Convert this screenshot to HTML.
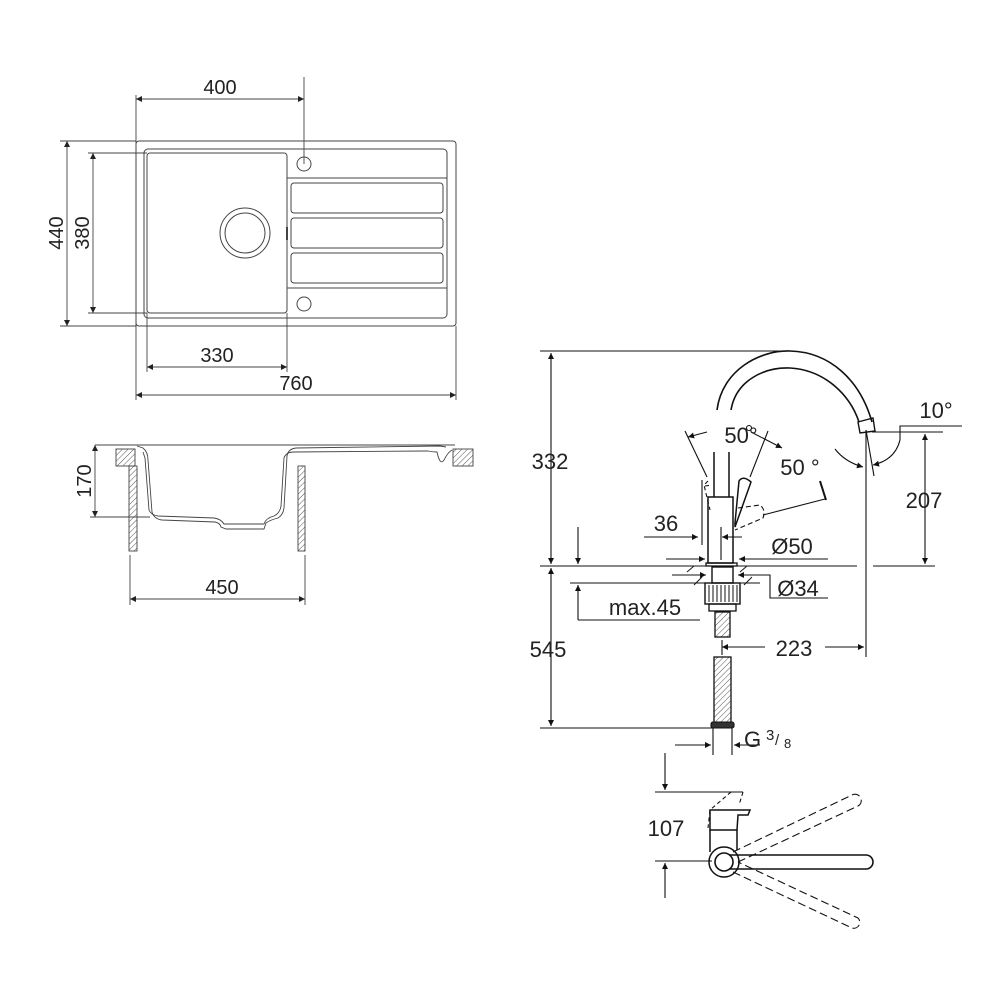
<!DOCTYPE html>
<html><head><meta charset="utf-8"><style>
html,body{margin:0;padding:0;background:#fff;}
svg{display:block;}
text{font-family:"Liberation Sans",sans-serif;fill:#222;}
</style></head><body>
<svg width="1000" height="1000" viewBox="0 0 1000 1000" xmlns="http://www.w3.org/2000/svg">
<defs>
<marker id="a" viewBox="0 0 10 10" refX="10" refY="5" markerWidth="10" markerHeight="6" orient="auto-start-reverse" markerUnits="userSpaceOnUse"><path d="M0,0L10,5L0,10z" fill="#222"/></marker>
<marker id="b" viewBox="0 0 10 10" refX="10" refY="5" markerWidth="14" markerHeight="6" orient="auto-start-reverse" markerUnits="userSpaceOnUse"><path d="M0,0L10,5L0,10z" fill="#111"/></marker>
<pattern id="h" patternUnits="userSpaceOnUse" width="4" height="4" patternTransform="rotate(45)"><line x1="0" y1="0" x2="0" y2="4" stroke="#555" stroke-width="1"/></pattern>
</defs>

<!-- ===== Sink plan ===== -->
<g fill="none" stroke="#444" stroke-width="1">
<rect x="136" y="141" width="320" height="185" rx="3"/>
<rect x="144" y="149" width="303" height="169" rx="4"/>
<rect x="147" y="153" width="140" height="160" rx="3"/>
<circle cx="245" cy="233" r="25"/>
<circle cx="245" cy="233" r="20"/>
<circle cx="304" cy="164" r="7"/>
<circle cx="304" cy="304" r="7"/>
<line x1="287" y1="178" x2="447" y2="178"/>
<line x1="287" y1="288" x2="447" y2="288"/>
<rect x="291" y="183" width="152" height="30" rx="3"/>
<rect x="291" y="218" width="152" height="30" rx="3"/>
<rect x="291" y="253" width="152" height="30" rx="3"/>
<line x1="287" y1="227" x2="287" y2="240" stroke-width="2"/>
</g>
<g stroke="#444" stroke-width="0.9" fill="none">
<line x1="136" y1="95" x2="136" y2="400"/>
<line x1="304" y1="77" x2="304" y2="164"/>
<line x1="136" y1="99" x2="304" y2="99" marker-start="url(#a)" marker-end="url(#a)"/>
<line x1="60" y1="141" x2="136" y2="141"/>
<line x1="60" y1="326" x2="136" y2="326"/>
<line x1="67" y1="141" x2="67" y2="326" marker-start="url(#a)" marker-end="url(#a)"/>
<line x1="88" y1="153" x2="147" y2="153"/>
<line x1="88" y1="313" x2="147" y2="313"/>
<line x1="93" y1="153" x2="93" y2="313" marker-start="url(#a)" marker-end="url(#a)"/>
<line x1="147" y1="313" x2="147" y2="372"/>
<line x1="287" y1="313" x2="287" y2="372"/>
<line x1="147" y1="367" x2="287" y2="367" marker-start="url(#a)" marker-end="url(#a)"/>
<line x1="456" y1="326" x2="456" y2="400"/>
<line x1="136" y1="395" x2="456" y2="395" marker-start="url(#a)" marker-end="url(#a)"/>
</g>
<g font-size="20" style="fill:#333">
<text x="220" y="94" text-anchor="middle">400</text>
<text x="217" y="362" text-anchor="middle">330</text>
<text x="296" y="390" text-anchor="middle">760</text>
<text transform="translate(63,233) rotate(-90)" text-anchor="middle">440</text>
<text transform="translate(89,233) rotate(-90)" text-anchor="middle">380</text>
</g>

<!-- ===== Sink section ===== -->
<g stroke="#444" stroke-width="0.9" fill="none">
<line x1="95" y1="445" x2="455" y2="445"/>
<rect x="116" y="449" width="19" height="17" fill="url(#h)"/>
<rect x="453" y="449" width="20" height="17" fill="url(#h)"/>
<rect x="129" y="466" width="8" height="85" fill="url(#h)"/>
<rect x="298" y="466" width="7" height="85" fill="url(#h)"/>
<path d="M137,446 L143,448 Q148,452 148,460 L152,512 Q154,519 162,520 L215,522 Q220,523 221,527 L226,529 L264,529 L266,523 Q270,520 278,518 Q283,515 284,508 L287,456 Q288,449 296,448 L440,446 L446,447"/>
<path d="M143,452 L145,458 L149,510 Q151,515 158,516 L214,518 Q221,519 224,524 L264,524 Q266,518 274,516 Q280,513 281,506 L284,458 Q286,452 294,452 L428,451 Q432,452 437,452 Q440,466 444,460 Q448,452 452,450"/>
<line x1="90" y1="517" x2="150" y2="517"/>
<line x1="95" y1="445" x2="95" y2="517" marker-start="url(#a)" marker-end="url(#a)"/>
<line x1="130" y1="555" x2="130" y2="605"/>
<line x1="305" y1="555" x2="305" y2="605"/>
<line x1="130" y1="599" x2="305" y2="599" marker-start="url(#a)" marker-end="url(#a)"/>
</g>
<g font-size="20" style="fill:#333">
<text x="222" y="594" text-anchor="middle">450</text>
<text transform="translate(91,481) rotate(-90)" text-anchor="middle">170</text>
</g>

<!-- ===== Faucet ===== -->
<g stroke="#111" stroke-width="1.1" fill="none">
<line x1="540" y1="351" x2="785" y2="351"/>
<line x1="551" y1="353" x2="551" y2="564" marker-start="url(#b)" marker-end="url(#b)"/>
<line x1="540" y1="566" x2="857" y2="566"/>
<line x1="873" y1="566" x2="935" y2="566"/>
<line x1="551" y1="568" x2="551" y2="726" marker-start="url(#b)" marker-end="url(#b)"/>
<line x1="540" y1="728" x2="720" y2="728"/>
<path d="M717,410 C722,370 760,350 790,351 C830,352 860,380 872,422" stroke-width="1.6"/>
<path d="M731,410 C736,380 765,367 790,368 C825,370 850,395 859,422" stroke-width="1.6"/>
<path d="M858,422 L873,418 L875,431 L860,433 Z" stroke-width="1.4"/>
<line x1="714" y1="452" x2="714" y2="497" stroke-width="1.5"/>
<line x1="729" y1="452" x2="729" y2="497" stroke-width="1.5"/>
<rect x="708" y="497" width="25" height="66" stroke-width="1.5"/>
<rect x="706" y="563" width="31" height="3" stroke-width="1.3"/>
<path d="M735,523 L739,481 Q743,475 751,482 L735,527 Z" stroke-width="1.5"/>
<path d="M708,481 L704,485 L710,510 M705,486 L712,485" stroke-dasharray="4,3"/>
<line x1="702" y1="480" x2="702" y2="545"/>
<path d="M738,508 L760,505 Q766,510 763,518 L735,530" stroke-dasharray="5,3"/>
<line x1="763" y1="515" x2="825" y2="499"/>
<line x1="820" y1="481" x2="826" y2="500" stroke-width="2"/>
<line x1="685" y1="431" x2="707" y2="477"/>
<line x1="768" y1="431" x2="750" y2="477"/>
<line x1="688" y1="437" x2="707" y2="432" marker-start="url(#b)"/>
<circle cx="749" cy="428" r="2.5"/>
<line x1="751" y1="432" x2="782" y2="448" marker-end="url(#b)"/>
<line x1="644" y1="537" x2="698" y2="537" marker-end="url(#b)"/>
<line x1="742" y1="537" x2="722" y2="537" marker-end="url(#b)"/>
<line x1="721" y1="527" x2="721" y2="560"/>
<line x1="666" y1="559" x2="705" y2="559" marker-end="url(#b)"/>
<line x1="780" y1="559" x2="739" y2="559" marker-end="url(#b)"/>
<line x1="780" y1="559" x2="828" y2="559"/>
<path d="M687,572 L694,566 M694,585 L702,577 M740,572 L747,566 M744,585 L752,577" stroke-width="0.9"/>
<line x1="672" y1="575" x2="706" y2="575" marker-end="url(#b)"/>
<line x1="762" y1="575" x2="738" y2="575" marker-end="url(#b)"/>
<polyline points="742,575 770,575 770,598 828,598"/>
<rect x="712" y="567" width="21" height="16" stroke-width="1.4"/>
<rect x="705" y="583" width="35" height="21" stroke-width="1.4"/>
<path d="M709,585v17M713,585v17M717,585v17M721,585v17M725,585v17M729,585v17M733,585v17M737,585v17" stroke-width="1"/>
<rect x="709" y="604" width="27" height="7" stroke-width="1.3"/>
<rect x="715" y="612" width="15" height="25" fill="url(#h)" stroke-width="1.3"/>
<rect x="714" y="657" width="17" height="66" fill="url(#h)" stroke-width="1.3"/>
<rect x="711" y="722" width="23" height="6" rx="2" fill="#333"/>
<line x1="722" y1="640" x2="722" y2="655"/>
<line x1="578" y1="527" x2="578" y2="564" marker-end="url(#b)"/>
<line x1="570" y1="583" x2="760" y2="583"/>
<line x1="578" y1="620" x2="578" y2="585" marker-end="url(#b)"/>
<line x1="578" y1="620" x2="700" y2="620"/>
<line x1="866" y1="430" x2="866" y2="657"/>
<line x1="722" y1="647" x2="765" y2="647" marker-start="url(#b)"/>
<line x1="825" y1="647" x2="864" y2="647" marker-end="url(#b)"/>
<line x1="895" y1="432" x2="943" y2="432"/>
<line x1="925" y1="434" x2="925" y2="564" marker-start="url(#b)" marker-end="url(#b)"/>
<polyline points="872,432 898,432"/>
<polyline points="900,440 900,426 962,426"/>
<line x1="866" y1="430" x2="874" y2="476"/>
<path d="M835,449 Q845,462 863,467" marker-end="url(#b)"/>
<path d="M900,440 Q895,460 873,465" marker-end="url(#b)"/>
<line x1="675" y1="745" x2="711" y2="745" marker-end="url(#b)"/>
<line x1="760" y1="745" x2="734" y2="745" marker-end="url(#b)"/>
<line x1="713" y1="728" x2="713" y2="755"/>
<line x1="732" y1="728" x2="732" y2="755"/>
</g>
<g font-size="22" fill="#111">
<text x="550" y="469" text-anchor="middle">332</text>
<text x="548" y="657" text-anchor="middle">545</text>
<text x="741" y="443" text-anchor="middle">50°</text>
<text x="800" y="475" text-anchor="middle">50 °</text>
<text x="666" y="531" text-anchor="middle">36</text>
<text x="792" y="554" text-anchor="middle">Ø50</text>
<text x="798" y="596" text-anchor="middle">Ø34</text>
<text x="645" y="615" text-anchor="middle">max.45</text>
<text x="794" y="656" text-anchor="middle">223</text>
<text x="924" y="508" text-anchor="middle">207</text>
<text x="936" y="418" text-anchor="middle">10°</text>
<text x="744" y="747">G</text>
<text x="766" y="740" font-size="15">3</text><text x="775" y="745" font-size="15">/</text><text x="784" y="748" font-size="13">8</text>
</g>

<!-- ===== Lever top view ===== -->
<g stroke="#111" stroke-width="1.1" fill="none">
<line x1="665" y1="753" x2="665" y2="790" marker-end="url(#b)"/>
<line x1="655" y1="792" x2="743" y2="792"/>
<line x1="655" y1="861" x2="712" y2="861"/>
<line x1="665" y1="898" x2="665" y2="863" marker-end="url(#b)"/>
<path d="M743,792 L739,805 M731,792 L710,810 L708,828" stroke-dasharray="4,3"/>
<path d="M710,810 L750,810 L748,815 L738,815 L737,830 L710,830 Z" stroke-width="1.5"/>
<line x1="710" y1="830" x2="710" y2="852" stroke-width="1.5"/>
<line x1="737" y1="830" x2="737" y2="850" stroke-width="1.5"/>
<circle cx="724" cy="862" r="15" stroke-width="1.5"/>
<circle cx="724" cy="862" r="9" stroke-width="1.6"/>
<path d="M729,855 L866,855 A7,7 0 0 1 866,869 L729,869" stroke-width="1.6"/>
<path d="M733,852 L852,795 A6,6 0 0 1 858,806 L738,862" stroke-dasharray="8,4"/>
<path d="M733,872 L852,928 A6,6 0 0 0 858,918 L738,862" stroke-dasharray="8,4"/>
</g>
<text x="666" y="836" font-size="22" text-anchor="middle" fill="#111">107</text>
</svg>
</body></html>
